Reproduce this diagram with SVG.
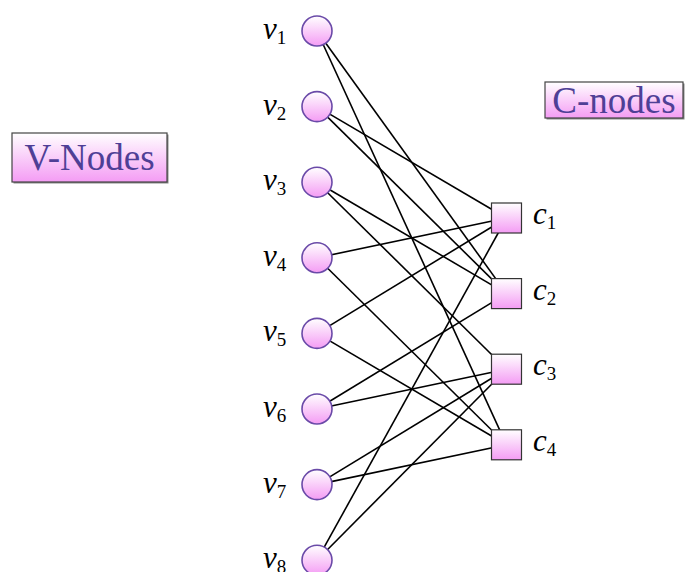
<svg xmlns="http://www.w3.org/2000/svg" width="686" height="572" viewBox="0 0 686 572">
<defs>
<linearGradient id="g" x1="0" y1="0" x2="0" y2="1">
<stop offset="0" stop-color="#ffffff"/>
<stop offset="1" stop-color="#f49cf4"/>
</linearGradient>
</defs>
<style>
.e{stroke:#000;stroke-width:1.6;fill:none}
.v{fill:url(#g);stroke:#6a4aa8;stroke-width:1.6}
.c{fill:url(#g);stroke:#333;stroke-width:1.2}
.lb{font-size:31px;fill:#000}
.it{font-style:italic}
.sb{font-size:19px;font-style:normal}
.box{fill:url(#g);stroke:#444;stroke-width:1.2}
.sh{fill:#888}
.tt{font-size:37px;fill:#4f3f96}
</style>
<g id="connectors">
<line class="e" x1="317" y1="31" x2="506.5" y2="293.6"/>
<line class="e" x1="317" y1="31" x2="506.5" y2="444.8"/>
<line class="e" x1="317" y1="106.6" x2="506.5" y2="218"/>
<line class="e" x1="317" y1="106.6" x2="506.5" y2="293.6"/>
<line class="e" x1="317" y1="182.2" x2="506.5" y2="293.6"/>
<line class="e" x1="317" y1="182.2" x2="506.5" y2="369.2"/>
<line class="e" x1="317" y1="257.8" x2="506.5" y2="218"/>
<line class="e" x1="317" y1="257.8" x2="506.5" y2="444.8"/>
<line class="e" x1="317" y1="333.4" x2="506.5" y2="218"/>
<line class="e" x1="317" y1="333.4" x2="506.5" y2="444.8"/>
<line class="e" x1="317" y1="409" x2="506.5" y2="293.6"/>
<line class="e" x1="317" y1="409" x2="506.5" y2="369.2"/>
<line class="e" x1="317" y1="484.6" x2="506.5" y2="369.2"/>
<line class="e" x1="317" y1="484.6" x2="506.5" y2="444.8"/>
<line class="e" x1="317" y1="560.2" x2="506.5" y2="218"/>
<line class="e" x1="317" y1="560.2" x2="506.5" y2="369.2"/>
</g>
<g font-family="Liberation Serif, serif">
<g id="vnodes-title">
<rect class="sh" x="13.5" y="134.5" width="155" height="49"/>
<rect class="box" x="12" y="133" width="155" height="49"/>
<text class="tt" x="89.5" y="170" text-anchor="middle">V-Nodes</text>
</g>
<g id="cnodes-title">
<rect class="sh" x="546.5" y="83.5" width="138" height="36"/>
<rect class="box" x="545" y="82" width="138" height="36"/>
<text class="tt" x="614" y="113" text-anchor="middle">C-nodes</text>
</g>
<g id="v1"><circle class="v" cx="317" cy="31" r="15"/><text class="lb it" x="263" y="39">v<tspan class="sb" dy="5">1</tspan></text></g>
<g id="v2"><circle class="v" cx="317" cy="106.6" r="15"/><text class="lb it" x="263" y="114.6">v<tspan class="sb" dy="5">2</tspan></text></g>
<g id="v3"><circle class="v" cx="317" cy="182.2" r="15"/><text class="lb it" x="263" y="190.2">v<tspan class="sb" dy="5">3</tspan></text></g>
<g id="v4"><circle class="v" cx="317" cy="257.8" r="15"/><text class="lb it" x="263" y="265.8">v<tspan class="sb" dy="5">4</tspan></text></g>
<g id="v5"><circle class="v" cx="317" cy="333.4" r="15"/><text class="lb it" x="263" y="341.4">v<tspan class="sb" dy="5">5</tspan></text></g>
<g id="v6"><circle class="v" cx="317" cy="409" r="15"/><text class="lb it" x="263" y="417">v<tspan class="sb" dy="5">6</tspan></text></g>
<g id="v7"><circle class="v" cx="317" cy="484.6" r="15"/><text class="lb it" x="263" y="492.6">v<tspan class="sb" dy="5">7</tspan></text></g>
<g id="v8"><circle class="v" cx="317" cy="560.2" r="15"/><text class="lb it" x="263" y="568.2">v<tspan class="sb" dy="5">8</tspan></text></g>
<g id="c1"><rect class="c" x="491.5" y="203" width="30" height="30"/><text class="lb it" x="533" y="224">c<tspan class="sb" dy="5">1</tspan></text></g>
<g id="c2"><rect class="c" x="491.5" y="278.6" width="30" height="30"/><text class="lb it" x="533" y="299.6">c<tspan class="sb" dy="5">2</tspan></text></g>
<g id="c3"><rect class="c" x="491.5" y="354.2" width="30" height="30"/><text class="lb it" x="533" y="375.2">c<tspan class="sb" dy="5">3</tspan></text></g>
<g id="c4"><rect class="c" x="491.5" y="429.8" width="30" height="30"/><text class="lb it" x="533" y="450.8">c<tspan class="sb" dy="5">4</tspan></text></g>
</g>
</svg>
